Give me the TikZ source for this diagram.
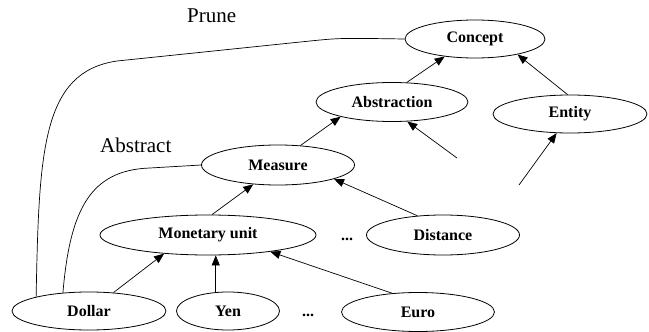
\documentclass[tikz,border=0pt]{standalone}
\usepackage{fontspec}
\setmainfont{Liberation Serif}
\usetikzlibrary{shapes.geometric,arrows.meta}
\begin{document}
\begin{tikzpicture}[x=1pt,y=-1pt,
  concept/.style={ellipse,draw,line width=0.8pt,inner sep=0pt,
    font=\fontsize{16}{18}\selectfont\bfseries},
  isa/.style={line width=0.7pt,-{Triangle[length=10pt,width=8pt]}},
  link/.style={line width=0.7pt},
  lbl/.style={font=\fontsize{21}{24}\selectfont,anchor=base west,inner sep=0pt},
  etc/.style={font=\fontsize{16}{18}\selectfont\bfseries,anchor=base,inner sep=0pt}]
\useasboundingbox (0,0) rectangle (649,332);

\node[concept,minimum width=140pt,minimum height=38pt] (con) at (475,39) {Concept};
\node[concept,minimum width=152pt,minimum height=39pt] (abs) at (392,102) {Abstraction};
\node[concept,minimum width=154pt,minimum height=38pt] (ent) at (570,114) {Entity};
\node[concept,minimum width=153pt,minimum height=40pt] (mea) at (278,165) {Measure};
\node[concept,minimum width=216pt,minimum height=40pt] (mon) at (208,235) {Monetary unit};
\node[concept,minimum width=153pt,minimum height=40pt] (dis) at (443,235) {Distance};
\node[concept,minimum width=154pt,minimum height=38pt] (dol) at (89,311) {Dollar};
\node[concept,minimum width=103pt,minimum height=38pt] (yen) at (228,311) {Yen};
\node[concept,minimum width=153pt,minimum height=39pt] (eur) at (418,312) {Euro};

\node[etc] (d1) at (347,240) {...};
\node[etc] (d2) at (308,316) {...};

\node[lbl] (prune) at (187,23) {Prune};
\node[lbl] (abstr) at (100,152) {Abstract};

\coordinate (f1) at (457,158);
\coordinate (f2) at (519,185);

\draw[isa] (abs.53) -- (con.210);
\draw[isa] (ent.97) -- (con.-20);
\draw[isa] (mea.41) -- (abs.196);
\draw[isa] (f1) -- (abs.-52);
\draw[isa] (f2) -- (ent.235);
\draw[isa] (mon.79) -- (mea.218);
\draw[isa] (dis.143) -- (mea.-14);
\draw[isa] (dol.37) -- (mon.203);
\draw[isa] (yen.123) -- (yen.123 |- mon.south);
\draw[isa] (eur.144) -- (mon.-15);

\draw[link] (dol.165) .. controls (39,150) and (42,72) .. (117,61)
  -- (310,41) .. controls (340,38) .. (con.west);
\draw[link] (dol.145) .. controls (70,210) and (90,170) .. (150,168) -- (mea.west);
\end{tikzpicture}
\end{document}
